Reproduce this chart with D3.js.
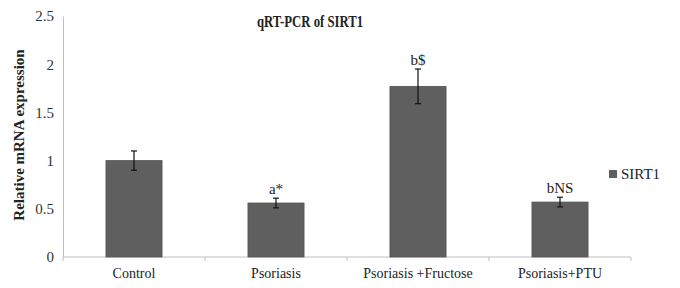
<!DOCTYPE html>
<html>
<head>
<meta charset="utf-8">
<script src="https://cdn.jsdelivr.net/npm/d3@7"></script>
<style>
  body { margin: 0; background: #fff; }
  text { font-family: "Liberation Serif", "Times New Roman", serif; }
</style>
</head>
<body>
<svg id="chart" width="680" height="288"></svg>
<script>
// data
const groups = ["Control", "Psoriasis", "Psoriasis +Fructose", "Psoriasis+PTU"];
const values = [1.0, 0.56, 1.77, 0.57];
const errors = [0.1, 0.05, 0.18, 0.05];
const marks = ["", "a*", "b$", "bNS"];
const yTicks = [0, 0.5, 1, 1.5, 2, 2.5];
const yTickLabels = ["0", "0.5", "1", "1.5", "2", "2.5"];

const svg = d3.select("#chart");
const margin = {top: 16, left: 63, right: 49, bottom: 31};
const width = 680 - margin.left - margin.right;
const height = 288 - margin.top - margin.bottom;

const g = svg.append("g").attr("transform", `translate(${margin.left},${margin.top})`);

const x = d3.scaleBand().domain(groups).range([0, width]).paddingInner(0).paddingOuter(0);
const y = d3.scaleLinear().domain([0, 2.5]).range([height, 0]);
const barW = x.bandwidth() * 0.395;

// y axis (line only)
const yAxis = g.append("g")
  .call(d3.axisLeft(y).tickValues(yTicks).tickFormat((d, i) => yTickLabels[i]).tickSize(0).tickPadding(9));
yAxis.select(".domain").attr("stroke", "#c0c0c0");
yAxis.selectAll("text").attr("font-size", "15px").attr("fill", "#333")
  .style("font-family", "'Liberation Serif', serif");

// x axis with boundary ticks
g.append("line")
  .attr("x1", 0).attr("x2", width).attr("y1", height).attr("y2", height)
  .attr("stroke", "#c0c0c0");
const bounds = groups.map(d => x(d)).concat([width]);
g.selectAll(".xtick").data(bounds).join("line")
  .attr("class", "xtick")
  .attr("x1", d => d).attr("x2", d => d)
  .attr("y1", height).attr("y2", height + 4)
  .attr("stroke", "#c0c0c0");
g.selectAll(".xlab").data(groups).join("text")
  .attr("class", "xlab")
  .attr("x", d => x(d) + x.bandwidth() / 2)
  .attr("y", height + 21)
  .attr("text-anchor", "middle")
  .attr("font-size", "14px")
  .attr("fill", "#222")
  .text(d => d);

// bars
g.selectAll(".bar").data(values).join("rect")
  .attr("class", "bar")
  .attr("x", (d, i) => x(groups[i]) + (x.bandwidth() - barW) / 2)
  .attr("y", d => y(d))
  .attr("width", barW)
  .attr("height", d => height - y(d))
  .attr("fill", "#5f5f5f")
  .attr("stroke", "#555")
  .attr("stroke-width", 0.8);

// error bars
const cx = i => x(groups[i]) + x.bandwidth() / 2;
const eb = g.selectAll(".err").data(values).join("g").attr("class", "err");
eb.append("line")
  .attr("x1", (d, i) => cx(i)).attr("x2", (d, i) => cx(i))
  .attr("y1", (d, i) => y(d + errors[i])).attr("y2", (d, i) => y(d - errors[i]))
  .attr("stroke", "#111").attr("stroke-width", 1.2);
eb.append("line")
  .attr("x1", (d, i) => cx(i) - 3).attr("x2", (d, i) => cx(i) + 3)
  .attr("y1", (d, i) => y(d + errors[i])).attr("y2", (d, i) => y(d + errors[i]))
  .attr("stroke", "#111").attr("stroke-width", 1.2);
eb.append("line")
  .attr("x1", (d, i) => cx(i) - 3).attr("x2", (d, i) => cx(i) + 3)
  .attr("y1", (d, i) => y(d - errors[i])).attr("y2", (d, i) => y(d - errors[i]))
  .attr("stroke", "#111").attr("stroke-width", 1.2);

// significance marks
g.selectAll(".mark").data(marks).join("text")
  .attr("class", "mark")
  .attr("x", (d, i) => cx(i))
  .attr("y", (d, i) => y(values[i] + errors[i]) - 4)
  .attr("text-anchor", "middle")
  .attr("font-size", "15px")
  .attr("fill", "#222")
  .text(d => d);

// title
svg.append("text")
  .attr("x", 257).attr("y", 27)
  .attr("font-size", "16px")
  .attr("font-weight", "bold")
  .attr("fill", "#222")
  .attr("textLength", 106)
  .attr("lengthAdjust", "spacingAndGlyphs")
  .text("qRT-PCR of SIRT1");

// y axis title
svg.append("text")
  .attr("transform", "translate(24,135) rotate(-90)")
  .attr("text-anchor", "middle")
  .attr("font-size", "15px")
  .attr("font-weight", "bold")
  .attr("fill", "#222")
  .text("Relative mRNA expression");

// legend
const legend = svg.append("g").attr("transform", "translate(609,170)");
legend.append("rect").attr("width", 8).attr("height", 8).attr("fill", "#5f5f5f");
legend.append("text").attr("x", 12).attr("y", 9)
  .attr("font-size", "15px").attr("fill", "#222").text("SIRT1");
</script>
</body>
</html>
